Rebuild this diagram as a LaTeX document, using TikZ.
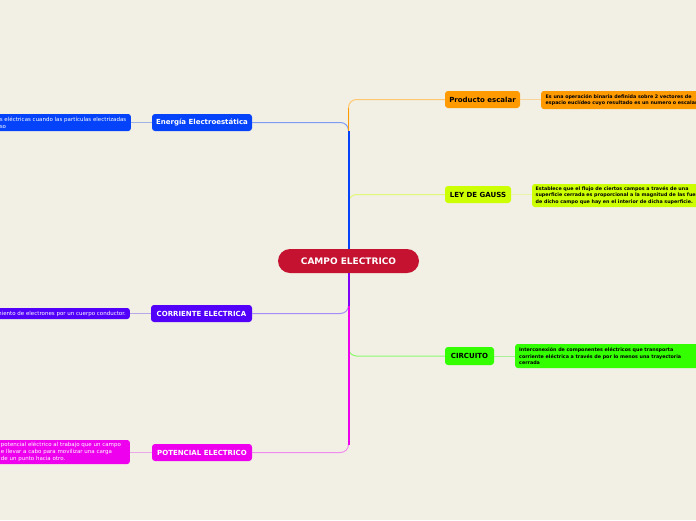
\documentclass[tikz,border=0pt]{standalone}
\usepackage{fontspec}
\setmainfont{DejaVu Sans}
\usetikzlibrary{calc}
\definecolor{bg}{HTML}{F2F0E4}
\definecolor{cRed}{HTML}{C41230}
\definecolor{cBlue}{HTML}{0443FA}
\definecolor{cBlueL}{HTML}{7F9CF5}
\definecolor{cBlueD}{HTML}{9FB2E6}
\definecolor{cViolet}{HTML}{5200FA}
\definecolor{cVioletL}{HTML}{A88CF5}
\definecolor{cVioletD}{HTML}{B9A8E8}
\definecolor{cMag}{HTML}{EE00EE}
\definecolor{cMagL}{HTML}{F08CF0}
\definecolor{cMagD}{HTML}{E8A8E8}
\definecolor{cOrange}{HTML}{FF9A00}
\definecolor{cOrangeL}{HTML}{FFC870}
\definecolor{cOrangeD}{HTML}{F8D49A}
\definecolor{cYellow}{HTML}{CCFF00}
\definecolor{cYellowL}{HTML}{E2F878}
\definecolor{cYellowD}{HTML}{E8F4A8}
\definecolor{cGreen}{HTML}{33FF00}
\definecolor{cGreenL}{HTML}{8CF870}
\definecolor{cGreenD}{HTML}{A8F098}
\begin{document}
\begin{tikzpicture}[x=1pt,y=-1pt,
  main/.style={rounded corners=3pt, inner sep=0pt, text=white,
    font=\fontsize{7}{8}\bfseries\selectfont, minimum height=17pt},
  dbox/.style={rounded corners=2.5pt, inner sep=0pt},
  ltext/.style={inner sep=0pt, align=left, text=white, font=\fontsize{5.5}{7}\selectfont},
  rtext/.style={inner sep=0pt, align=left, text=black, font=\bfseries\fontsize{4.8}{6.6}\selectfont},
  trunk/.style={line width=2pt},
  branch/.style={line width=1pt, rounded corners=8pt},
  dline/.style={line width=0.9pt}]
\useasboundingbox[fill=bg] (0,0) rectangle (696,520);

% central node
\node[rounded corners=12pt, fill=cRed, text=white, minimum width=141pt, minimum height=24pt,
  inner sep=0pt, font=\fontsize{9}{10}\bfseries\selectfont] (c) at (348.5,261) {CAMPO ELECTRICO};

% main topic nodes
\node[main, fill=cBlue, minimum width=100pt] (ee) at (202,122.5) {Energía Electroestática};
\node[main, fill=cViolet, minimum width=101pt] (ce) at (201.5,313.5) {CORRIENTE ELECTRICA};
\node[main, fill=cMag, minimum width=100pt] (pe) at (202,452.5) {POTENCIAL ELECTRICO};
\node[main, fill=cOrange, text=black, minimum width=75pt] (pr) at (482.5,99.5) {Producto escalar};
\node[main, fill=cYellow, text=black, minimum width=66pt] (lg) at (478,194.5) {LEY DE GAUSS};
\node[main, fill=cGreen, text=black, minimum width=49pt, minimum height=18pt] (ci) at (469.5,356) {CIRCUITO};

% description boxes
\node[dbox, fill=cBlue, minimum width=160pt, minimum height=17pt, anchor=east] (eed) at (131,122.5) {};
\node[ltext, anchor=east] (eedt) at (126.5,122.8) {s eléctricas cuando las partículas electrizadas\\so};

\node[dbox, fill=cViolet, minimum width=160pt, minimum height=11pt, anchor=east] (ced) at (130,313.5) {};
\node[ltext, anchor=east] (cedt) at (126,313.5) {miento de electrones por un cuerpo conductor.};

\node[dbox, fill=cMag, minimum width=160pt, minimum height=24pt, anchor=east] (ped) at (130,452) {};
\node[ltext, anchor=west] (pedt) at (0.8,451.5) {potencial eléctrico al trabajo que un campo\\e llevar a cabo para movilizar una carga\\de un punto hacia otro.};

\node[dbox, fill=cOrange, minimum width=180pt, minimum height=18pt, anchor=west] (prd) at (541,100) {};
\node[rtext, anchor=west] (prdt) at (545.5,100) {Es una operación binaria definida sobre 2 vectores de\\espacio euclídeo cuyo resultado es un numero o escalar};

\node[dbox, fill=cYellow, minimum width=190pt, minimum height=23pt, anchor=west] (lgd) at (532,195.5) {};
\node[rtext, anchor=west] (lgdt) at (535.5,195.3) {Establece que el flujo de ciertos campos a través de una\\superficie cerrada es proporcional a la magnitud de las fuentes\\de dicho campo que hay en el interior de dicha superficie.};

\node[dbox, fill=cGreen, minimum width=190pt, minimum height=24pt, anchor=west] (cid) at (515,356) {};
\node[rtext, anchor=west] (cidt) at (519,356.5) {Interconexión de componentes eléctricos que transporta\\corriente eléctrica a través de por lo menos una trayectoria\\cerrada};

% junction coordinates on the trunk
\coordinate (jo) at (348.5,131);
\coordinate (jy) at (348.5,205);
\coordinate (jg) at (348.5,346);

% light branches
\draw[branch, cOrangeL] (jo) |- (pr.west);
\draw[branch, cYellowL] (jy) |- (lg.west);
\draw[branch, cGreenL] (jg) |- (ci.west);
\draw[branch, cBlueL] (c.north) |- (ee.east);
\draw[branch, cMagL] (c.south) |- (pe.east);
\draw[branch, cVioletL] (c.south) |- (ce.east);

% trunk parts
\draw[line width=1.6pt, cOrange] (jo) -- ($(jo |- pr.west)+(0,8)$);
\draw[trunk, cBlue] (c.north) -- ($(c.north |- ee.east)+(0,8)$);
\draw[trunk, cMag] (c.south) -- ($(c.south |- pe.east)+(0,-8)$);
\draw[trunk, cViolet!70!cMag] (c.south) -- ($(c.south |- ce.east)+(0,-8)$);

% description connectors
\draw[dline, cBlueD] (ee.west) -- (ee.west -| eed.east);
\draw[dline, cVioletD] (ce.west) -- (ce.west -| ced.east);
\draw[dline, cMagD] (pe.west) -- (pe.west -| ped.east);
\draw[dline, cOrangeD] (pr.east) -- (pr.east -| prd.west);
\draw[dline, cYellowD] (lg.east) -- (lg.east -| lgd.west);
\draw[dline, cGreenD] (ci.east) -- (ci.east -| cid.west);
\end{tikzpicture}
\end{document}
